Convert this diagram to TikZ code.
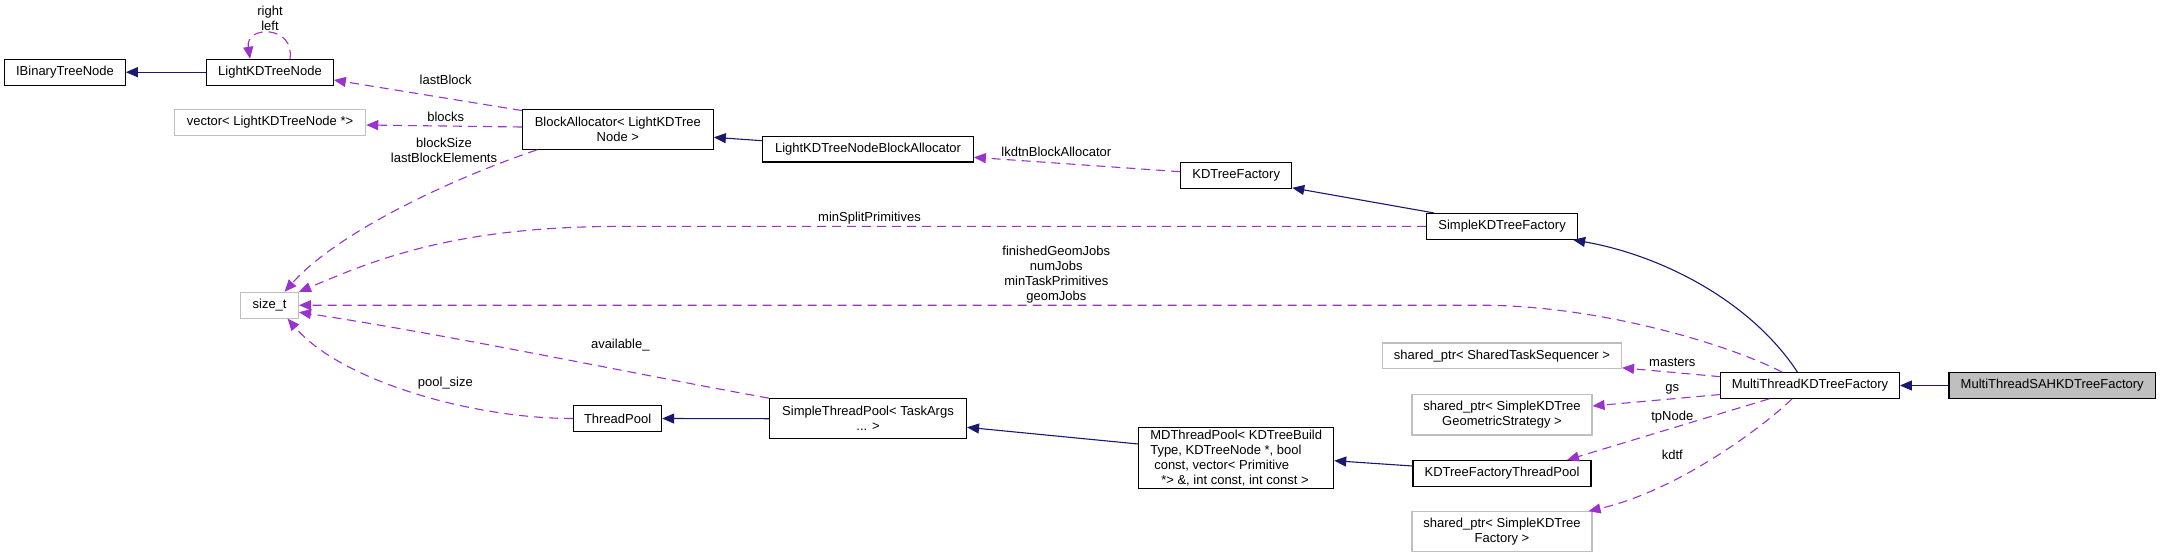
\documentclass[tikz,border=0pt]{standalone}
\usepackage{fontspec}
\setmainfont{Liberation Sans}
\usetikzlibrary{arrows.meta,calc}
\definecolor{navy}{HTML}{191970}
\definecolor{orchid}{HTML}{9A32CD}
\definecolor{grey75}{HTML}{BFBFBF}
\newcommand\dxfont{\fontsize{13}{15}\selectfont}
\begin{document}
\begin{tikzpicture}[x=1pt,y=1pt,
  cls/.style={rectangle, draw=black, line width=1.1pt, inner sep=0pt, align=center, font=\dxfont},
  ext/.style={cls, draw=grey75},
  cur/.style={cls, fill=grey75},
  inh/.style={color=navy, line width=1.1pt, -{Triangle[length=12pt,width=10pt]}},
  member/.style={color=orchid, line width=1.1pt, dash pattern=on 9pt off 6pt, -{Triangle[length=12pt,width=10pt]}},
  lab/.style={inner sep=0pt, align=center, font=\dxfont}]

\useasboundingbox (0,0) rectangle (2161,-558);
\fill[white] (0,0) rectangle (2161,-558);

% nodes
\node[cls, minimum width=120.6pt, minimum height=25.7pt] (ibtn) at (65,-72.2) {IBinaryTreeNode};
\node[cls, minimum width=126.6pt, minimum height=25.7pt] (lkdtn) at (270,-72.2) {LightKDTreeNode};
\node[ext, minimum width=191.4pt, minimum height=26pt] (vec) at (270,-122.3) {vector< LightKDTreeNode *>};
\node[cls, minimum width=191pt, minimum height=40.3pt] (ba) at (617.8,-129.2) {BlockAllocator< LightKDTree\\Node >};
\node[cls, minimum width=210.6pt, minimum height=25.3pt] (lkdtnba) at (868,-149.3) {LightKDTreeNodeBlockAllocator};
\node[cls, minimum width=111pt, minimum height=26pt] (kdtf) at (1236.2,-175.7) {KDTreeFactory};
\node[cls, minimum width=151pt, minimum height=25.8pt] (skdtf) at (1502.1,-226.4) {SimpleKDTreeFactory};
\node[ext, minimum width=57.7pt, minimum height=25.7pt] (sizet) at (269.6,-305.2) {size\_t};
\node[ext, minimum width=239pt, minimum height=25.7pt] (sts) at (1502,-355.8) {shared\_ptr< SharedTaskSequencer >};
\node[cls, minimum width=178.5pt, minimum height=25.6pt] (mtkdtf) at (1810.1,-385.5) {MultiThreadKDTreeFactory};
\node[cur, minimum width=206.5pt, minimum height=25.6pt] (mtsah) at (2052.2,-385.5) {MultiThreadSAHKDTreeFactory};
\node[ext, minimum width=180pt, minimum height=40.5pt] (gs) at (1502,-414.7) {shared\_ptr< SimpleKDTree\\GeometricStrategy >};
\node[cls, minimum width=88pt, minimum height=25.6pt] (tp) at (617.6,-418.5) {ThreadPool};
\node[cls, minimum width=197pt, minimum height=40pt] (stp) at (868,-418.7) {SimpleThreadPool< TaskArgs\\... >};
\node[cls, align=left, minimum width=195pt, minimum height=60.6pt] (mdtp) at (1236.2,-458) {MDThreadPool< KDTreeBuild\\Type, KDTreeNode *, bool\\\hspace*{4pt}const, vector< Primitive\\\hspace*{11pt}*> \&, int const, int const >};
\node[cls, minimum width=178pt, minimum height=25.5pt] (kdtftp) at (1502,-473.3) {KDTreeFactoryThreadPool};
\node[ext, minimum width=180pt, minimum height=40pt] (factory) at (1502,-531.7) {shared\_ptr< SimpleKDTree\\Factory >};

% inheritance
\draw[inh] (lkdtn) -- (ibtn);
\draw[inh] ($(lkdtnba.west)+(0,8.6)$) -- ($(ba.east)+(0,-8.1)$);
\draw[inh] ($(skdtf.north west)+(8,0)$) -- ($(kdtf.south east)+(0,1.4)$);
\draw[inh] ($(mtkdtf.north)+(-12.6,0)$) .. controls (1750,-300) and (1660,-255) .. ($(skdtf.south east)+(-5,0)$);
\draw[inh] (mtsah) -- (mtkdtf);
\draw[inh] (stp.west) -- (tp.east);
\draw[inh] ($(mdtp.west)+(0,14)$) -- ($(stp.east)+(0,-8.6)$);
\draw[inh] ($(kdtftp.west)+(0,7.3)$) -- ($(mdtp.east)+(0,-2.7)$);

% members
\draw[member] ($(lkdtn.north)+(20,0)$) .. controls (295,-25) and (245,-25) .. ($(lkdtn.north)+(-20,0)$);
\draw[member] ($(ba.north west)+(0,-2)$) -- ($(lkdtn.east)+(0,-7.8)$);
\draw[member] ($(ba.west)+(0,2.2)$) -- ($(vec.east)+(0,-2.7)$);
\draw[member] ($(ba.south west)+(15,0)$) .. controls (437,-184) and (333,-237) .. ($(sizet.north)+(15,0)$);
\draw[member] ($(kdtf.west)+(0,4)$) -- ($(lkdtnba.east)+(0,-8)$);
\draw[member] (skdtf.west) -- (620,-226.4) .. controls (450,-226.4) and (370,-262) .. (sizet.north east);
\draw[member] ($(mtkdtf.north)+(-28,0)$) .. controls (1730,-345) and (1600,-305.2) .. (1480,-305.2) -- (sizet.east);
\draw[member] (stp.north west) .. controls (640,-375) and (450,-335) .. ($(sizet.east)+(0,-7)$);
\draw[member] (tp.west) .. controls (470,-418.5) and (340,-380) .. ($(sizet.south)+(18,0)$);
\draw[member] ($(mtkdtf.west)+(0,8.8)$) -- ($(sts.south east)+(0,1.4)$);
\draw[member] ($(mtkdtf.west)+(0,-9)$) -- ($(gs.east)+(0,8.7)$);
\draw[member] ($(mtkdtf.south)+(-41,0)$) -- ($(kdtftp.north)+(65,0)$);
\draw[member] ($(mtkdtf.south)+(-18,0)$) .. controls (1765,-425) and (1680,-490) .. ($(factory.north east)+(-4,0)$);

% labels
\node[lab] (lrl) at (270,-18.8) {right\\left};
\node[lab] (llb) at (445.7,-80) {lastBlock};
\node[lab] (lbk) at (445.7,-116.7) {blocks};
\node[lab] (lbs) at (444,-150.8) {blockSize\\lastBlockElements};
\node[lab] (llk) at (1056.3,-151.7) {lkdtnBlockAllocator};
\node[lab] (lms) at (869.5,-218.3) {minSplitPrimitives};
\node[lab] (lgj) at (1056.3,-274.7) {finishedGeomJobs\\numJobs\\minTaskPrimitives\\geomJobs};
\node[lab] (lav) at (620.3,-345) {available\_};
\node[lab] (lps) at (445.4,-382.7) {pool\_size};
\node[lab] (lma) at (1672.3,-362.7) {masters};
\node[lab] (lgs) at (1672.3,-389.3) {gs};
\node[lab] (ltp) at (1672.3,-416.7) {tpNode};
\node[lab] (lkd) at (1672.3,-455) {kdtf};
\end{tikzpicture}
\end{document}
